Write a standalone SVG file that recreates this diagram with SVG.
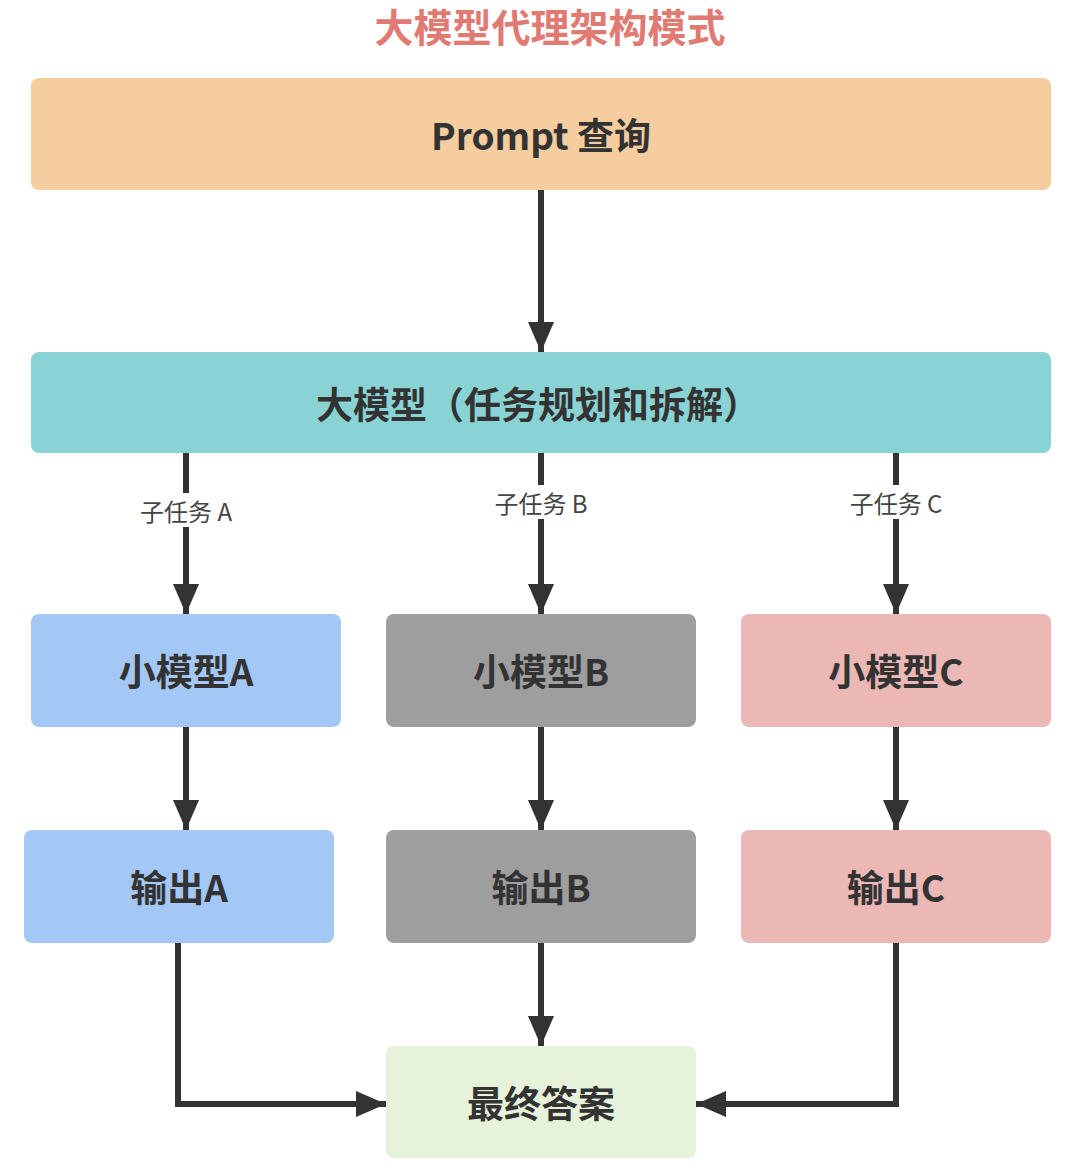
<svg xmlns="http://www.w3.org/2000/svg" width="1080" height="1168" viewBox="0 0 1080 1168">
<style>
.box{stroke:none}
.lbl{font-family:"Noto Sans CJK SC","Noto Sans",sans-serif;font-weight:700;font-size:37px;fill:#333;text-anchor:middle;dominant-baseline:central}
.edge{fill:none;stroke:#333;stroke-width:6}
.elbl{font-family:"Noto Sans CJK SC","Noto Sans",sans-serif;font-size:24px;fill:#444;text-anchor:middle;dominant-baseline:central}
.title{font-family:"Noto Sans CJK SC","Noto Sans",sans-serif;font-weight:700;font-size:39px;fill:#e07a72;text-anchor:middle}
</style>
<defs>
<marker id="ah" markerUnits="userSpaceOnUse" markerWidth="32" markerHeight="28" refX="30" refY="14" orient="auto">
<path d="M0,1 L30,14 L0,27 Z" fill="#333"/>
</marker>
</defs>
<rect width="1080" height="1168" fill="#ffffff"/>
<text class="title" x="550" y="42">大模型代理架构模式</text>
<g id="edges">
<line class="edge" x1="541" y1="190" x2="541" y2="352" marker-end="url(#ah)"/>
<line class="edge" x1="186" y1="453" x2="186" y2="614" marker-end="url(#ah)"/>
<line class="edge" x1="541" y1="453" x2="541" y2="614" marker-end="url(#ah)"/>
<line class="edge" x1="896" y1="453" x2="896" y2="614" marker-end="url(#ah)"/>
<rect x="132" y="493" width="108" height="34" fill="#fff"/>
<text class="elbl" x="186" y="510">子任务 A</text>
<rect x="487" y="485" width="108" height="34" fill="#fff"/>
<text class="elbl" x="541" y="502">子任务 B</text>
<rect x="842" y="485" width="108" height="34" fill="#fff"/>
<text class="elbl" x="896" y="502">子任务 C</text>
<line class="edge" x1="186" y1="727" x2="186" y2="830" marker-end="url(#ah)"/>
<line class="edge" x1="541" y1="727" x2="541" y2="830" marker-end="url(#ah)"/>
<line class="edge" x1="896" y1="727" x2="896" y2="830" marker-end="url(#ah)"/>
<polyline class="edge" points="178,943 178,1104 386,1104" marker-end="url(#ah)"/>
<line class="edge" x1="541" y1="943" x2="541" y2="1046" marker-end="url(#ah)"/>
<polyline class="edge" points="896,943 896,1104 696,1104" marker-end="url(#ah)"/>
</g>
<g id="prompt"><rect class="box" x="31" y="78" width="1020" height="112" rx="8" fill="#f5cd9f"/><text class="lbl" x="541" y="134">Prompt 查询</text></g>
<g id="llm"><rect class="box" x="31" y="352" width="1020" height="101" rx="8" fill="#8ad3d5"/><text class="lbl" x="538" y="403">大模型（任务规划和拆解）</text></g>
<g id="smallA"><rect class="box" x="31" y="614" width="310" height="113" rx="8" fill="#a3c8f5"/><text class="lbl" x="186" y="670">小模型A</text></g>
<g id="smallB"><rect class="box" x="386" y="614" width="310" height="113" rx="8" fill="#9e9e9e"/><text class="lbl" x="541" y="670">小模型B</text></g>
<g id="smallC"><rect class="box" x="741" y="614" width="310" height="113" rx="8" fill="#ecb8b5"/><text class="lbl" x="896" y="670">小模型C</text></g>
<g id="outA"><rect class="box" x="24" y="830" width="310" height="113" rx="8" fill="#a3c8f5"/><text class="lbl" x="179" y="886">输出A</text></g>
<g id="outB"><rect class="box" x="386" y="830" width="310" height="113" rx="8" fill="#9e9e9e"/><text class="lbl" x="541" y="886">输出B</text></g>
<g id="outC"><rect class="box" x="741" y="830" width="310" height="113" rx="8" fill="#ecb8b5"/><text class="lbl" x="896" y="886">输出C</text></g>
<g id="final"><rect class="box" x="386" y="1046" width="310" height="112" rx="8" fill="#e6f3da"/><text class="lbl" x="541" y="1102">最终答案</text></g>
</svg>
